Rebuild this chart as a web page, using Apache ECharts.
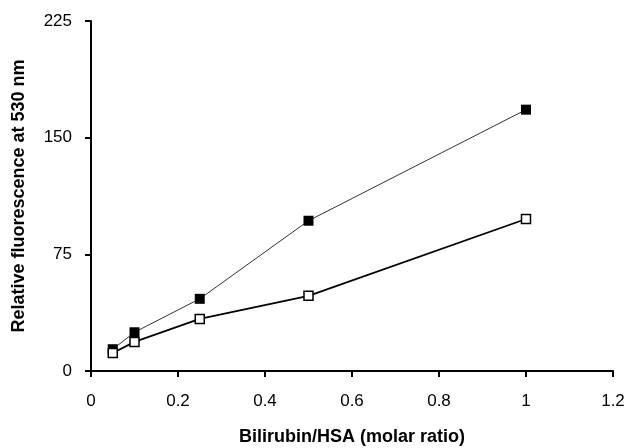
<!DOCTYPE html>
<html>
<head>
<meta charset="utf-8">
<script src="https://cdn.jsdelivr.net/npm/echarts@6/dist/echarts.min.js"></script>
<style>
    html, body { margin: 0; padding: 0; background: #fff; }
    #chart { width: 626px; height: 448px; }
</style>
</head>
<body>
<div id="chart"></div>
<script>
// molar ratio on x
const ratios = [0.05, 0.1, 0.25, 0.5, 1.0]
// filled squares
const filledValues = [14, 24.9, 46.4, 96.6, 168]
// open squares
const openValues = [11.6, 18.7, 33.5, 48.3, 97.7]

const xTicks = [0, 0.2, 0.4, 0.6, 0.8, 1, 1.2]
const yTicks = [0, 75, 150, 225]

const pairs = (xs, ys) => xs.map((x, i) => [x, ys[i]])

const font = "'Liberation Sans', Arial, sans-serif"

const chart = echarts.init(document.getElementById("chart"), null, { renderer: "canvas" })

const option = {
    animation: false,
    backgroundColor: "#fff",
    grid: {
        left: 91,
        right: 13,
        top: 21,
        bottom: 77,
        outerBoundsMode: "none",
    },
    xAxis: {
        type: "value",
        min: xTicks[0],
        max: xTicks[xTicks.length - 1],
        interval: 0.2,
        name: "Bilirubin/HSA (molar ratio)",
        nameLocation: "middle",
        nameGap: 57,
        nameTextStyle: { fontFamily: font, fontSize: 18, fontWeight: "bold", color: "#000" },
        axisLine: { lineStyle: { color: "#000", width: 2 } },
        axisTick: { inside: false, length: 6, lineStyle: { color: "#000", width: 2 } },
        axisLabel: {
            margin: 22,
            fontFamily: font,
            fontSize: 17,
            color: "#000",
            formatter: (v) => String(Math.round(v * 10) / 10),
        },
        splitLine: { show: false },
    },
    yAxis: {
        type: "value",
        min: yTicks[0],
        max: yTicks[yTicks.length - 1],
        interval: 75,
        name: "Relative fluorescence at 530 nm",
        nameLocation: "middle",
        nameGap: 63,
        nameTextStyle: { fontFamily: font, fontSize: 18, fontWeight: "bold", color: "#000" },
        axisLine: { show: true, lineStyle: { color: "#000", width: 2 } },
        axisTick: { show: true, inside: false, length: 6, lineStyle: { color: "#000", width: 2 } },
        axisLabel: { margin: 19, fontFamily: font, fontSize: 17, color: "#000" },
        splitLine: { show: false },
    },
    series: [
        {
            name: "filled",
            type: "line",
            data: pairs(ratios, filledValues),
            symbol: "rect",
            symbolSize: 10,
            lineStyle: { color: "#333", width: 1 },
            itemStyle: { color: "#000", borderColor: "#000", borderWidth: 0 },
            z: 3,
        },
        {
            name: "open",
            type: "line",
            data: pairs(ratios, openValues),
            symbol: "rect",
            symbolSize: 9,
            lineStyle: { color: "#000", width: 1.8 },
            itemStyle: { color: "#fff", borderColor: "#000", borderWidth: 1.5 },
            z: 4,
        },
    ],
}

chart.setOption(option)
</script>
</body>
</html>
